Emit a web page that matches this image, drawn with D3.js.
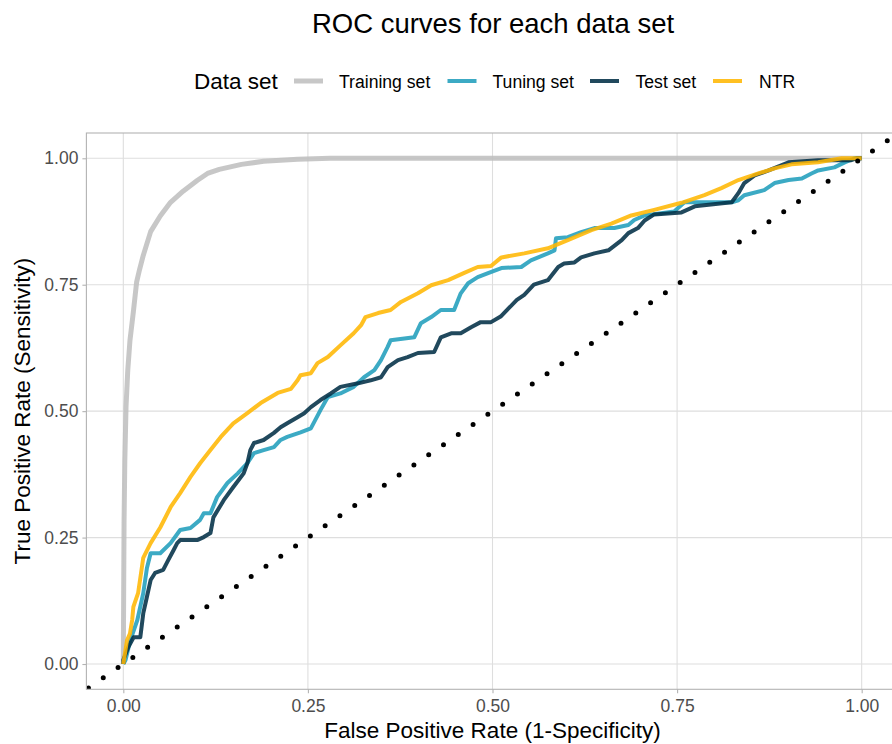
<!DOCTYPE html>
<html>
<head>
<meta charset="utf-8">
<script src="https://cdn.jsdelivr.net/npm/d3@7"></script>
<style>
  html, body { margin: 0; padding: 0; background: #fff; }
  svg { display: block; font-family: "Liberation Sans", Arial, Helvetica, sans-serif; }
</style>
</head>
<body>
<svg id="chart" width="892" height="744"></svg>
<script>
// ---------------- DATA ----------------
const seriesNames = ["Training set", "Tuning set", "Test set", "NTR"];
const seriesColors = ["#bdbdbd", "#219ebc", "#023047", "#ffb703"];
const tickValues = [0, 0.25, 0.5, 0.75, 1];
const tickLabels = ["0.00", "0.25", "0.50", "0.75", "1.00"];

const trainingROC = [[0,0],[0.0005,0.15],[0.001,0.28],[0.002,0.40],[0.0037,0.51],[0.006,0.58],[0.009,0.64],[0.0135,0.695],[0.018,0.755],[0.022,0.78],[0.027,0.808],[0.037,0.855],[0.05,0.886],[0.064,0.913],[0.081,0.935],[0.10,0.956],[0.114,0.97],[0.13,0.978],[0.16,0.988],[0.19,0.994],[0.236,0.998],[0.28,1],[1,1]];

const tuningROC = [[0,0],[0.003,0.008],[0.0095,0.047],[0.019,0.087],[0.027,0.14],[0.032,0.19],[0.037,0.219],[0.05,0.219],[0.064,0.239],[0.077,0.265],[0.091,0.269],[0.104,0.285],[0.109,0.298],[0.118,0.298],[0.127,0.33],[0.141,0.358],[0.155,0.377],[0.168,0.397],[0.177,0.417],[0.19,0.423],[0.204,0.429],[0.213,0.443],[0.222,0.449],[0.24,0.458],[0.254,0.466],[0.267,0.502],[0.277,0.528],[0.294,0.535],[0.312,0.548],[0.326,0.567],[0.34,0.581],[0.349,0.601],[0.358,0.627],[0.362,0.64],[0.394,0.646],[0.403,0.674],[0.417,0.686],[0.43,0.70],[0.448,0.70],[0.457,0.733],[0.467,0.753],[0.48,0.765],[0.494,0.773],[0.512,0.783],[0.539,0.785],[0.552,0.798],[0.575,0.812],[0.584,0.818],[0.586,0.842],[0.602,0.844],[0.62,0.854],[0.638,0.862],[0.665,0.862],[0.684,0.868],[0.692,0.878],[0.706,0.887],[0.746,0.895],[0.76,0.913],[0.824,0.913],[0.833,0.917],[0.841,0.927],[0.868,0.937],[0.882,0.951],[0.901,0.957],[0.919,0.96],[0.932,0.97],[0.941,0.976],[0.963,0.982],[0.977,0.992],[0.99,1.0],[1,1]];

const testROC = [[0,0],[0.0,0.008],[0.007,0.034],[0.014,0.053],[0.023,0.053],[0.027,0.10],[0.032,0.133],[0.037,0.166],[0.043,0.18],[0.054,0.186],[0.061,0.206],[0.068,0.225],[0.073,0.239],[0.077,0.245],[0.10,0.245],[0.109,0.251],[0.118,0.259],[0.122,0.29],[0.136,0.324],[0.149,0.35],[0.163,0.377],[0.168,0.397],[0.172,0.423],[0.177,0.437],[0.19,0.443],[0.204,0.457],[0.213,0.468],[0.222,0.476],[0.236,0.488],[0.245,0.496],[0.254,0.508],[0.267,0.522],[0.281,0.535],[0.294,0.548],[0.318,0.555],[0.335,0.561],[0.349,0.567],[0.358,0.587],[0.372,0.601],[0.385,0.607],[0.399,0.615],[0.421,0.617],[0.43,0.646],[0.444,0.654],[0.457,0.654],[0.471,0.666],[0.484,0.676],[0.498,0.676],[0.511,0.687],[0.533,0.72],[0.543,0.73],[0.556,0.75],[0.575,0.759],[0.589,0.785],[0.597,0.792],[0.611,0.794],[0.62,0.804],[0.638,0.812],[0.657,0.818],[0.675,0.838],[0.684,0.852],[0.697,0.862],[0.706,0.877],[0.719,0.889],[0.756,0.893],[0.774,0.905],[0.824,0.913],[0.833,0.931],[0.841,0.951],[0.855,0.966],[0.874,0.976],[0.891,0.986],[0.901,0.992],[0.941,0.996],[0.985,0.996],[0.993,1.0],[1,1]];

const ntrROC = [[0,0],[0.005,0.047],[0.009,0.06],[0.012,0.087],[0.0136,0.113],[0.02,0.14],[0.025,0.19],[0.027,0.21],[0.037,0.239],[0.05,0.27],[0.064,0.31],[0.077,0.338],[0.091,0.37],[0.104,0.397],[0.118,0.423],[0.132,0.449],[0.149,0.476],[0.168,0.496],[0.186,0.516],[0.209,0.536],[0.227,0.544],[0.236,0.561],[0.24,0.571],[0.254,0.575],[0.263,0.595],[0.277,0.607],[0.294,0.63],[0.312,0.654],[0.322,0.67],[0.328,0.686],[0.345,0.694],[0.362,0.70],[0.376,0.716],[0.399,0.733],[0.417,0.749],[0.44,0.759],[0.461,0.773],[0.48,0.785],[0.498,0.787],[0.512,0.804],[0.543,0.812],[0.575,0.822],[0.602,0.838],[0.634,0.858],[0.661,0.871],[0.688,0.887],[0.719,0.898],[0.756,0.912],[0.787,0.927],[0.81,0.941],[0.833,0.957],[0.86,0.970],[0.882,0.980],[0.905,0.988],[0.941,0.992],[0.973,1.0],[1,1]];

const seriesData = [trainingROC, tuningROC, testROC, ntrROC];

// ---------------- LAYOUT ----------------
const svg = d3.select("#chart");
const panel = { left: 86.4, right: 898.6, top: 133, bottom: 689.3 };
const x = d3.scaleLinear().domain([-0.05, 1.05]).range([panel.left, panel.right]);
const y = d3.scaleLinear().domain([-0.05, 1.05]).range([panel.bottom, panel.top]);

svg.append("rect").attr("width", 892).attr("height", 744).attr("fill", "#fff");

// grid
const grid = svg.append("g");
grid.selectAll("line.vx").data(tickValues).join("line")
  .attr("x1", d => x(d)).attr("x2", d => x(d))
  .attr("y1", panel.top).attr("y2", panel.bottom)
  .attr("stroke", "#dedede").attr("stroke-width", 1.1);
grid.selectAll("line.hy").data(tickValues).join("line")
  .attr("y1", d => y(d)).attr("y2", d => y(d))
  .attr("x1", panel.left).attr("x2", panel.right)
  .attr("stroke", "#dedede").attr("stroke-width", 1.1);

// clip
svg.append("clipPath").attr("id", "clip").append("rect")
  .attr("x", panel.left).attr("y", panel.top)
  .attr("width", panel.right - panel.left).attr("height", panel.bottom - panel.top);

const plot = svg.append("g").attr("clip-path", "url(#clip)");
const line = d3.line().x(d => x(d[0])).y(d => y(d[1]));

seriesData.forEach((data, i) => {
  plot.append("path")
    .datum(data)
    .attr("d", line)
    .attr("fill", "none")
    .attr("stroke", seriesColors[i])
    .attr("stroke-opacity", i === 0 ? 0.85 : 0.88)
    .attr("stroke-width", i === 0 ? 5 : 4)
    .attr("stroke-linejoin", "round");
});

// diagonal dotted reference line
plot.append("line")
  .attr("x1", x(-0.05)).attr("y1", y(-0.05))
  .attr("x2", x(1.05)).attr("y2", y(1.05))
  .attr("stroke", "#000").attr("stroke-width", 5)
  .attr("stroke-linecap", "round")
  .attr("stroke-dasharray", "0 17.93")
  .attr("stroke-dashoffset", -2.5);

// panel border
svg.append("rect")
  .attr("x", panel.left).attr("y", panel.top)
  .attr("width", panel.right - panel.left).attr("height", panel.bottom - panel.top)
  .attr("fill", "none").attr("stroke", "#b3b3b3").attr("stroke-width", 1.1);

// axes
const xAxis = d3.axisBottom(x).tickValues(tickValues).tickFormat((d, i) => tickLabels[i]).tickSize(4).tickPadding(4);
const yAxis = d3.axisLeft(y).tickValues(tickValues).tickFormat((d, i) => tickLabels[i]).tickSize(4).tickPadding(4);

const gx = svg.append("g").attr("transform", `translate(0,${panel.bottom})`).call(xAxis);
const gy = svg.append("g").attr("transform", `translate(${panel.left},0)`).call(yAxis);
[gx, gy].forEach(g => {
  g.select(".domain").remove();
  g.selectAll(".tick line").attr("stroke", "#b3b3b3").attr("stroke-width", 1.1);
  g.selectAll(".tick text").attr("fill", "#4d4d4d").attr("font-size", 17.5)
    .attr("font-family", "'Liberation Sans', Arial, Helvetica, sans-serif");
});
gx.selectAll(".tick text").attr("dy", "0.85em");

// axis titles
svg.append("text").attr("x", (panel.left + panel.right) / 2).attr("y", 738)
  .attr("text-anchor", "middle").attr("font-size", 22.5).attr("fill", "#000")
  .text("False Positive Rate (1-Specificity)");
svg.append("text")
  .attr("transform", `translate(30,${(panel.top + panel.bottom) / 2}) rotate(-90)`)
  .attr("text-anchor", "middle").attr("font-size", 22.5).attr("fill", "#000")
  .text("True Positive Rate (Sensitivity)");

// title
svg.append("text").attr("x", 493).attr("y", 33)
  .attr("text-anchor", "middle").attr("font-size", 27.5).attr("fill", "#000")
  .text("ROC curves for each data set");

// legend
const legend = svg.append("g");
legend.append("text").attr("x", 194).attr("y", 88.5).attr("font-size", 22.5).attr("fill", "#000").text("Data set");
const keyX = [294, 447.5, 590, 713];
const labelX = [339, 492.5, 635.5, 759];
seriesNames.forEach((name, i) => {
  legend.append("line")
    .attr("x1", keyX[i]).attr("x2", keyX[i] + 29)
    .attr("y1", 81).attr("y2", 81)
    .attr("stroke", seriesColors[i]).attr("stroke-width", i === 0 ? 5 : 4)
    .attr("stroke-opacity", i === 0 ? 0.85 : 0.88);
  legend.append("text").attr("x", labelX[i]).attr("y", 87.5)
    .attr("font-size", 17.6).attr("fill", "#000").text(name);
});
</script>
</body>
</html>
